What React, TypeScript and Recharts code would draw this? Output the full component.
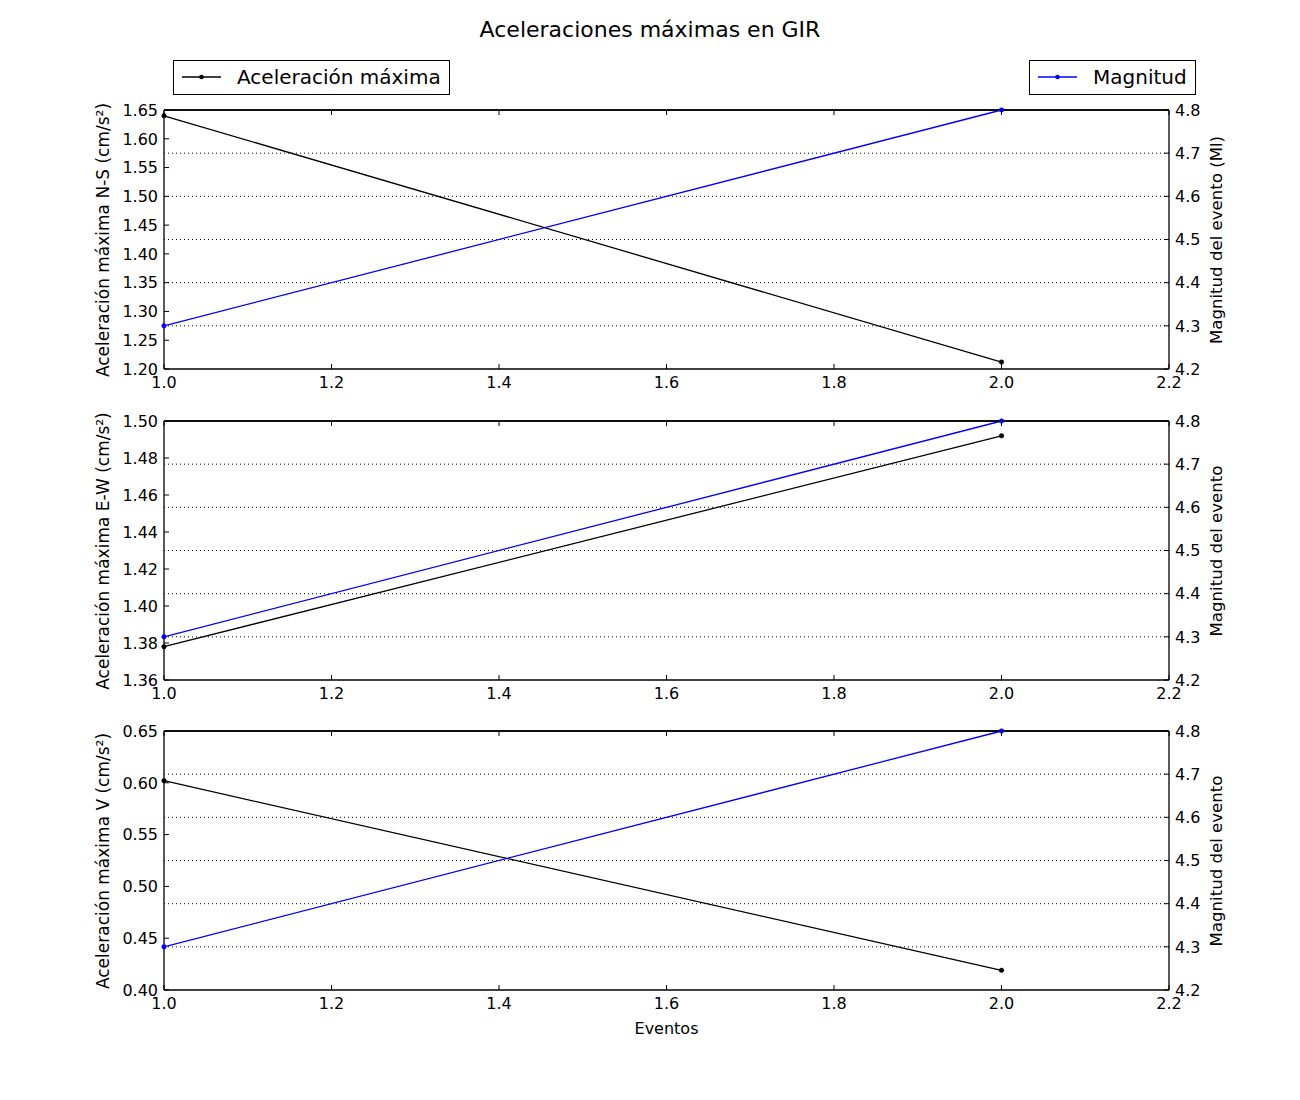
import React from "react";
import { LineChart, Line, XAxis, YAxis, CartesianGrid, ReferenceLine } from "recharts";

const eventos = [1, 2];
const acelNS = [1.64, 1.212];
const acelEW = [1.378, 1.492];
const acelV = [0.602, 0.419];
const magnitud = [4.3, 4.8];

const xTicks = [1.0, 1.2, 1.4, 1.6, 1.8, 2.0, 2.2];
const magTicks = [4.2, 4.3, 4.4, 4.5, 4.6, 4.7, 4.8];
const nsTicks = [1.2, 1.25, 1.3, 1.35, 1.4, 1.45, 1.5, 1.55, 1.6, 1.65];
const ewTicks = [1.36, 1.38, 1.4, 1.42, 1.44, 1.46, 1.48, 1.5];
const vTicks = [0.4, 0.45, 0.5, 0.55, 0.6, 0.65];

const FONT = "'DejaVu Sans', sans-serif";
const PLOT_LEFT = 164;
const PLOT_RIGHT = 1169;
const PLOT_H = 259;
const TICK = 5;

const build = (acel: number[]) =>
  eventos.map((e, i) => ({ evento: e, acel: acel[i], mag: magnitud[i] }));

const BottomTick = ({ x, y, payload }: any) => (
  <g>
    <line x1={x} x2={x} y1={y} y2={y - TICK} stroke="#000" />
    <text x={x} y={y + 19} textAnchor="middle" fontSize={16} fontFamily={FONT} fill="#000">
      {Number(payload.value).toFixed(1)}
    </text>
  </g>
);

const TopTick = ({ x, y }: any) => (
  <line x1={x} x2={x} y1={y} y2={y + TICK} stroke="#000" />
);

const makeLeftTick = (digits: number) => ({ x, y, payload }: any) => (
  <g>
    <line x1={x} x2={x + TICK} y1={y} y2={y} stroke="#000" />
    <text x={x - 6} y={y} dy="0.36em" textAnchor="end" fontSize={16} fontFamily={FONT} fill="#000">
      {Number(payload.value).toFixed(digits)}
    </text>
  </g>
);

const RightTick = ({ x, y, payload }: any) => (
  <g>
    <line x1={x} x2={x - TICK} y1={y} y2={y} stroke="#000" />
    <text x={x + 6} y={y} dy="0.36em" textAnchor="start" fontSize={16} fontFamily={FONT} fill="#000">
      {Number(payload.value).toFixed(1)}
    </text>
  </g>
);

// dotted grid from the magnitude axis, skipping the lines on the frame
const GridLine = (props: any) => {
  const { x1, x2, y1, y2, y, height } = props;
  if (Math.abs(y1 - y) < 1 || Math.abs(y1 - (y + height)) < 1) return <g key={props.key} />;
  return (
    <line key={props.key} x1={x1} x2={x2} y1={y1} y2={y2} stroke="#000" strokeWidth={1} strokeDasharray="1 3" />
  );
};

interface PanelProps {
  top: number;
  acel: number[];
  ticks: number[];
  digits: number;
  leftLabel: string;
  rightLabel: string;
}

function Panel({ top, acel, ticks, digits, leftLabel, rightLabel }: PanelProps) {
  const data = build(acel);
  const LeftTick = makeLeftTick(digits);
  return (
    <>
      <div style={{ position: "absolute", left: 0, top: top - 10 }}>
        <LineChart
          width={1300}
          height={PLOT_H + 10 + 30}
          data={data}
          margin={{ top: 9, right: 1300 - PLOT_RIGHT - 60, bottom: 0, left: PLOT_LEFT - 60 }}
        >
          <CartesianGrid
            yAxisId="right"
            xAxisId="bottom"
            vertical={false}
            horizontal={(p: any) => GridLine(p)}
          />
          <XAxis
            xAxisId="bottom"
            dataKey="evento"
            type="number"
            domain={[1, 2.2]}
            ticks={xTicks}
            interval={0}
            height={30}
            tickSize={0}
            tickMargin={0}
            tick={<BottomTick />}
            axisLine={{ stroke: "#000", strokeWidth: 1.3 }}
          />
          <XAxis
            xAxisId="top"
            orientation="top"
            dataKey="evento"
            type="number"
            domain={[1, 2.2]}
            ticks={xTicks}
            interval={0}
            height={1}
            tickSize={0}
            tickMargin={0}
            tick={<TopTick />}
            axisLine={{ stroke: "#000", strokeWidth: 1.3 }}
          />
          <YAxis
            yAxisId="left"
            type="number"
            domain={[ticks[0], ticks[ticks.length - 1]]}
            ticks={ticks}
            interval={0}
            width={60}
            tickSize={0}
            tickMargin={0}
            tick={<LeftTick />}
            axisLine={{ stroke: "#000", strokeWidth: 1.3 }}
          />
          <YAxis
            yAxisId="right"
            orientation="right"
            type="number"
            domain={[4.2, 4.8]}
            ticks={magTicks}
            interval={0}
            width={60}
            tickSize={0}
            tickMargin={0}
            tick={<RightTick />}
            axisLine={{ stroke: "#000", strokeWidth: 1.3 }}
          />
          <ReferenceLine
            xAxisId="bottom"
            yAxisId="right"
            y={magTicks[magTicks.length - 1]}
            stroke="#000"
            strokeWidth={1.3}
          />
          <Line
            xAxisId="bottom"
            yAxisId="left"
            dataKey="acel"
            stroke="#000"
            strokeWidth={1.3}
            dot={{ r: 2.3, fill: "#000", stroke: "#000", strokeWidth: 0.5 }}
            isAnimationActive={false}
          />
          <Line
            xAxisId="bottom"
            yAxisId="right"
            dataKey="mag"
            stroke="#0000ff"
            strokeWidth={1.3}
            dot={{ r: 2.3, fill: "#0000ff", stroke: "#0000ff", strokeWidth: 0.5 }}
            isAnimationActive={false}
          />
        </LineChart>
      </div>
      <div
        style={{
          position: "absolute",
          left: 103,
          top: top + PLOT_H / 2,
          transform: "translate(-50%, -50%) rotate(-90deg)",
          whiteSpace: "nowrap",
          fontSize: 17,
        }}
      >
        {leftLabel}
      </div>
      <div
        style={{
          position: "absolute",
          left: 1216,
          top: top + PLOT_H / 2,
          transform: "translate(-50%, -50%) rotate(-90deg)",
          whiteSpace: "nowrap",
          fontSize: 16.6,
        }}
      >
        {rightLabel}
      </div>
    </>
  );
}

const LegendBox = ({ left, width, color, label }: any) => (
  <div
    style={{
      position: "absolute",
      left,
      top: 60,
      width,
      height: 35,
      boxSizing: "border-box",
      border: "1px solid #000",
      background: "#fff",
      fontSize: 20,
    }}
  >
    <svg width={60} height={33} style={{ position: "absolute", left: 0, top: 0 }}>
      <line x1={8} x2={47} y1={16} y2={16} stroke={color} strokeWidth={1.3} />
      <circle cx={27.5} cy={16} r={2.3} fill={color} />
    </svg>
    <span style={{ position: "absolute", left: 63, top: 4, whiteSpace: "nowrap" }}>{label}</span>
  </div>
);

export default function App() {
  return (
    <div
      style={{
        position: "absolute",
        left: 0,
        top: 0,
        width: 1300,
        height: 1100,
        background: "#fff",
        fontFamily: FONT,
        color: "#000",
      }}
    >
      <div
        style={{
          position: "absolute",
          left: 0,
          width: 1300,
          top: 17,
          textAlign: "center",
          fontSize: 22,
        }}
      >
        Aceleraciones máximas en GIR
      </div>
      <Panel
        top={110}
        acel={acelNS}
        ticks={nsTicks}
        digits={2}
        leftLabel="Aceleración máxima N-S (cm/s²)"
        rightLabel="Magnitud del evento (Ml)"
      />
      <Panel
        top={421}
        acel={acelEW}
        ticks={ewTicks}
        digits={2}
        leftLabel="Aceleración máxima E-W (cm/s²)"
        rightLabel="Magnitud del evento"
      />
      <Panel
        top={731}
        acel={acelV}
        ticks={vTicks}
        digits={2}
        leftLabel="Aceleración máxima V (cm/s²)"
        rightLabel="Magnitud del evento"
      />
      <div
        style={{
          position: "absolute",
          left: PLOT_LEFT,
          width: PLOT_RIGHT - PLOT_LEFT,
          top: 1019,
          textAlign: "center",
          fontSize: 16,
        }}
      >
        Eventos
      </div>
      <LegendBox left={173} width={277} color="#000" label="Aceleración máxima" />
      <LegendBox left={1029} width={167} color="#0000ff" label="Magnitud" />
    </div>
  );
}
